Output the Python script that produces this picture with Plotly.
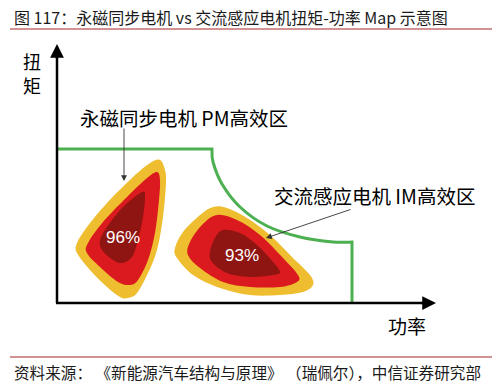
import plotly.graph_objects as go

W, H = 501, 388
FONT = "Noto Sans CJK SC, Liberation Sans, sans-serif"

title_text = "图 117：永磁同步电机 vs 交流感应电机扭矩-功率 Map 示意图"
source_text = "资料来源： 《新能源汽车结构与原理》 （瑞佩尔），中信证券研究部"
y_label = ["扭", "矩"]
x_label = "功率"
pm_label = "永磁同步电机 PM高效区"
im_label = "交流感应电机 IM高效区"
pm_eff = "96%"
im_eff = "93%"

# Outline control points of the efficiency islands (schematic, in page units)
pm_outer_x = [160, 165, 166, 163, 157, 148, 137, 128, 120, 107, 90, 77, 77, 87, 107, 133, 150]
pm_outer_y = [160, 170, 183, 217, 250, 273, 293, 298, 297, 287, 270, 253, 243, 227, 203, 177, 163]
pm_mid_x = [157, 160, 159, 155, 148, 138, 130, 118, 100, 87, 88, 103, 127, 147]
pm_mid_y = [172, 180, 200, 233, 260, 280, 285, 282, 267, 253, 243, 222, 197, 178]
pm_in_x = [142, 145, 143, 138, 132, 122, 113, 102, 100, 107, 123]
pm_in_y = [192, 197, 217, 240, 257, 263, 260, 250, 240, 227, 207]

im_outer_x = [213, 227, 247, 270, 293, 310, 313, 303, 280, 250, 220, 193, 177, 175, 183, 200]
im_outer_y = [207, 208, 218, 235, 258, 275, 285, 292, 295, 295, 288, 275, 258, 248, 232, 215]
im_mid_x = [217, 237, 260, 283, 298, 297, 280, 250, 223, 200, 188, 190, 202]
im_mid_y = [215, 220, 235, 258, 275, 282, 287, 287, 282, 268, 255, 242, 225]
im_in_x = [223, 240, 257, 273, 280, 273, 250, 227, 212, 210, 215]
im_in_y = [230, 233, 245, 262, 272, 275, 277, 273, 262, 252, 238]

# Torque-power envelope (schematic)
env_flat_x = [57, 212]
env_flat_y = [149, 149]
env_curve_x = [212, 213, 222, 240, 267, 300, 333, 352]
env_curve_y = [149, 162, 184, 207, 226, 237, 242, 242]
env_drop_x = [352, 352]
env_drop_y = [242, 303]

C_YEL = "#EFBE30"
C_RED = "#DA1A1E"
C_DARK = "#8E1512"
C_GREEN = "#4DB050"


def cr_path(xs, ys, closed=True):
    pts = list(zip(xs, ys))
    n = len(pts)
    segs = n if closed else n - 1
    d = f"M {pts[0][0]},{pts[0][1]}"
    for i in range(segs):
        if closed:
            p0 = pts[(i - 1) % n]; p1 = pts[i]; p2 = pts[(i + 1) % n]; p3 = pts[(i + 2) % n]
        else:
            p0 = pts[max(i - 1, 0)]; p1 = pts[i]; p2 = pts[i + 1]; p3 = pts[min(i + 2, n - 1)]
        c1 = (p1[0] + (p2[0] - p0[0]) / 6, p1[1] + (p2[1] - p0[1]) / 6)
        c2 = (p2[0] - (p3[0] - p1[0]) / 6, p2[1] - (p3[1] - p1[1]) / 6)
        d += f" C {c1[0]:.2f},{c1[1]:.2f} {c2[0]:.2f},{c2[1]:.2f} {p2[0]},{p2[1]}"
    if closed:
        d += " Z"
    return d


shapes = []
for xs, ys, col in [(pm_outer_x, pm_outer_y, C_YEL), (pm_mid_x, pm_mid_y, C_RED), (pm_in_x, pm_in_y, C_DARK),
                    (im_outer_x, im_outer_y, C_YEL), (im_mid_x, im_mid_y, C_RED), (im_in_x, im_in_y, C_DARK)]:
    shapes.append(dict(type="path", xref="x", yref="y", path=cr_path(xs, ys), fillcolor=col,
                       line=dict(width=0), layer="above"))

env_path = f"M {env_flat_x[0]},{env_flat_y[0]} L {env_flat_x[1]},{env_flat_y[1]} "
env_path += cr_path(env_curve_x, env_curve_y, closed=False)[len(f"M {env_curve_x[0]},{env_curve_y[0]}"):]
env_path += f" L {env_drop_x[1]},{env_drop_y[1]}"
shapes.append(dict(type="path", xref="x", yref="y", path=env_path, line=dict(color=C_GREEN, width=3),
                   fillcolor="rgba(0,0,0,0)", layer="above"))

# axes lines
shapes.append(dict(type="line", xref="x", yref="y", x0=57, y0=303, x1=57, y1=52, line=dict(color="black", width=2.5), layer="above"))
shapes.append(dict(type="line", xref="x", yref="y", x0=56, y0=303, x1=428, y1=303, line=dict(color="black", width=2.5), layer="above"))
# title / source rules
shapes.append(dict(type="line", xref="x", yref="y", x0=10, y0=29, x1=492, y1=29, line=dict(color="#A8282A", width=1.2)))
shapes.append(dict(type="line", xref="x", yref="y", x0=10, y0=357, x1=492, y1=357, line=dict(color="#A8282A", width=1.2)))

ann = []
ann.append(dict(x=12, y=17, text=title_text, xanchor="left", yanchor="middle", showarrow=False,
                font=dict(size=16, color="#1a1a1a", family=FONT)))
ann.append(dict(x=12, y=372, text=source_text, xanchor="left", yanchor="middle", showarrow=False,
                font=dict(size=15.6, color="#1a1a1a", family=FONT)))
for i, ch in enumerate(y_label):
    ann.append(dict(x=32, y=61 + 24 * i, text=ch, showarrow=False, xanchor="center", yanchor="middle",
                    font=dict(size=18, color="black", family=FONT)))
ann.append(dict(x=407, y=325, text=x_label, showarrow=False, xanchor="center", yanchor="middle",
                font=dict(size=19, color="black", family=FONT)))
ann.append(dict(x=78, y=117, text=pm_label, showarrow=False, xanchor="left", yanchor="middle",
                font=dict(size=19.5, color="black", family=FONT)))
ann.append(dict(x=272, y=195, text=im_label, showarrow=False, xanchor="left", yanchor="middle",
                font=dict(size=19.5, color="black", family=FONT)))
ann.append(dict(x=123, y=237, text=pm_eff, showarrow=False, font=dict(size=17, color="white", family="Liberation Sans")))
ann.append(dict(x=242, y=255, text=im_eff, showarrow=False, font=dict(size=17, color="white", family="Liberation Sans")))
# pointer arrows
ann.append(dict(x=124, y=181, ax=124, ay=127, axref="x", ayref="y", xref="x", yref="y", text="", showarrow=True,
                arrowhead=2, arrowsize=1.3, arrowwidth=0.9, arrowcolor="#333"))
ann.append(dict(x=266, y=238, ax=352, ay=209, axref="x", ayref="y", xref="x", yref="y", text="", showarrow=True,
                arrowhead=2, arrowsize=1.3, arrowwidth=0.9, arrowcolor="#333"))
# axis arrowheads
ann.append(dict(x=57, y=44, ax=57, ay=60, axref="x", ayref="y", xref="x", yref="y", text="", showarrow=True,
                arrowhead=2, arrowsize=1.1, arrowwidth=2.5, arrowcolor="black"))
ann.append(dict(x=436, y=303, ax=420, ay=303, axref="x", ayref="y", xref="x", yref="y", text="", showarrow=True,
                arrowhead=2, arrowsize=1.1, arrowwidth=2.5, arrowcolor="black"))

fig = go.Figure()
fig.add_trace(go.Scatter(x=[0, W], y=[0, H], mode="markers", marker=dict(opacity=0), hoverinfo="skip", showlegend=False))
fig.update_layout(width=W, height=H, margin=dict(l=0, r=0, t=0, b=0), paper_bgcolor="white", plot_bgcolor="white",
                  xaxis=dict(range=[0, W], visible=False, fixedrange=True),
                  yaxis=dict(range=[H, 0], visible=False, fixedrange=True),
                  shapes=shapes, annotations=ann, showlegend=False)
fig.write_html("out.html")
